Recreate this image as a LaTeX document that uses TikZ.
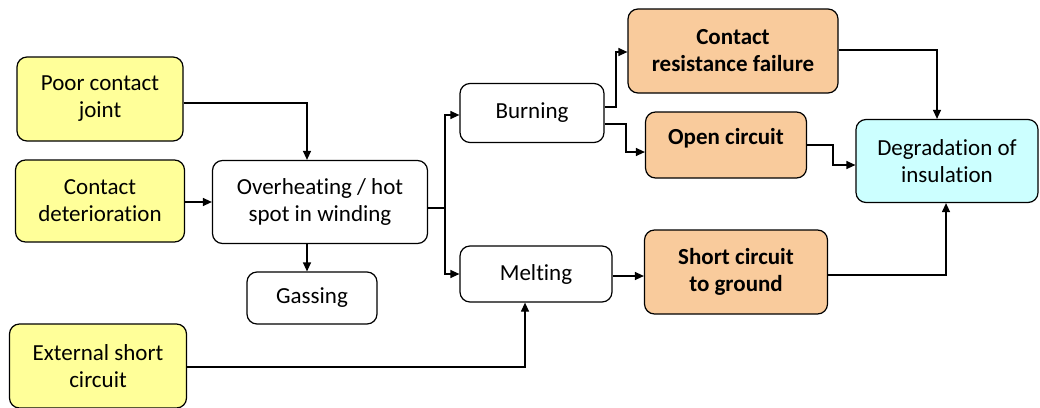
\documentclass[tikz,border=0pt]{standalone}
\usepackage{fontspec}
\setmainfont{Carlito}[Ligatures=NoCommon]
\usetikzlibrary{arrows.meta}
\definecolor{causeyellow}{HTML}{FFFF99}
\definecolor{failorange}{HTML}{F9CB9C}
\definecolor{endcyan}{HTML}{CCFFFF}
\tikzset{
  box/.style={draw=black, line width=1.2pt, rounded corners=10pt, align=center,
    inner sep=0pt, font=\fontsize{23}{27}\selectfont},
  cause/.style={box, fill=causeyellow},
  fail/.style={box, fill=failorange, font=\fontsize{23}{27}\selectfont\bfseries},
  final/.style={box, fill=endcyan},
  link/.style={draw=black, line width=1.2pt, -{Triangle[length=9pt,width=8pt]}},
}
\begin{document}
\begin{tikzpicture}[x=1pt,y=-1pt]
\useasboundingbox (0,0) rectangle (1040,407);

% initiating causes
\node[cause, minimum width=166pt, minimum height=84pt] (poor) at (100,99) {Poor contact\\joint};
\node[cause, minimum width=169pt, minimum height=82pt] (deter) at (100,201) {Contact\\deterioration};
\node[cause, minimum width=177pt, minimum height=84pt] (ext) at (98,366) {External short\\circuit};

% intermediate events
\node[box, minimum width=215pt, minimum height=83pt] (heat) at (320,202) {Overheating / hot\\spot in winding};
\node[box, minimum width=130pt, minimum height=52pt] (gas) at (312,298) {Gassing};
\node[box, minimum width=144pt, minimum height=59pt] (burn) at (532,113) {Burning};
\node[box, minimum width=152pt, minimum height=56pt] (melt) at (536,274) {Melting};

% failure modes
\node[fail, minimum width=210pt, minimum height=84pt] (crf) at (733,51) {Contact\\resistance failure};
\node[fail, minimum width=161pt, minimum height=66pt, text height=12pt, text depth=14pt] (open) at (726,145) {Open circuit};
\node[fail, minimum width=183pt, minimum height=84pt] (short) at (736,272) {Short circuit\\to ground};

% consequence
\node[final, minimum width=182pt, minimum height=83pt] (degr) at (947,161) {Degradation of\\insulation};

% helper points
\coordinate (split) at (445,208);

% connectors
\draw[link] (poor.east |- 0,103) -| (heat.north -| 307,0);
\draw[link] (deter.east |- 0,202) -- (heat.west |- 0,202);
\draw[link] (heat.south -| 307,0) -- (gas.north -| 307,0);
\draw[line width=1.2pt] (heat.east |- split) -- (split);
\draw[link] (split) |- (burn.west |- 0,115);
\draw[link] (split) |- (melt.west |- 0,274);
\draw[link] (burn.east |- 0,107) -- (616,107) |- (crf.west |- 0,52);
\draw[link] (burn.east |- 0,124) -- (626,124) |- (open.west |- 0,152);
\draw[link] (crf.east |- 0,50) -| (degr.north -| 937,0);
\draw[link] (open.east |- 0,145) -- (833,145) |- (degr.west |- 0,165);
\draw[link] (melt.east |- 0,276) -- (short.west |- 0,276);
\draw[link] (short.east |- 0,275) -| (degr.south -| 946,0);
\draw[link] (ext.east |- 0,367) -| (melt.south -| 525,0);
\end{tikzpicture}
\end{document}
